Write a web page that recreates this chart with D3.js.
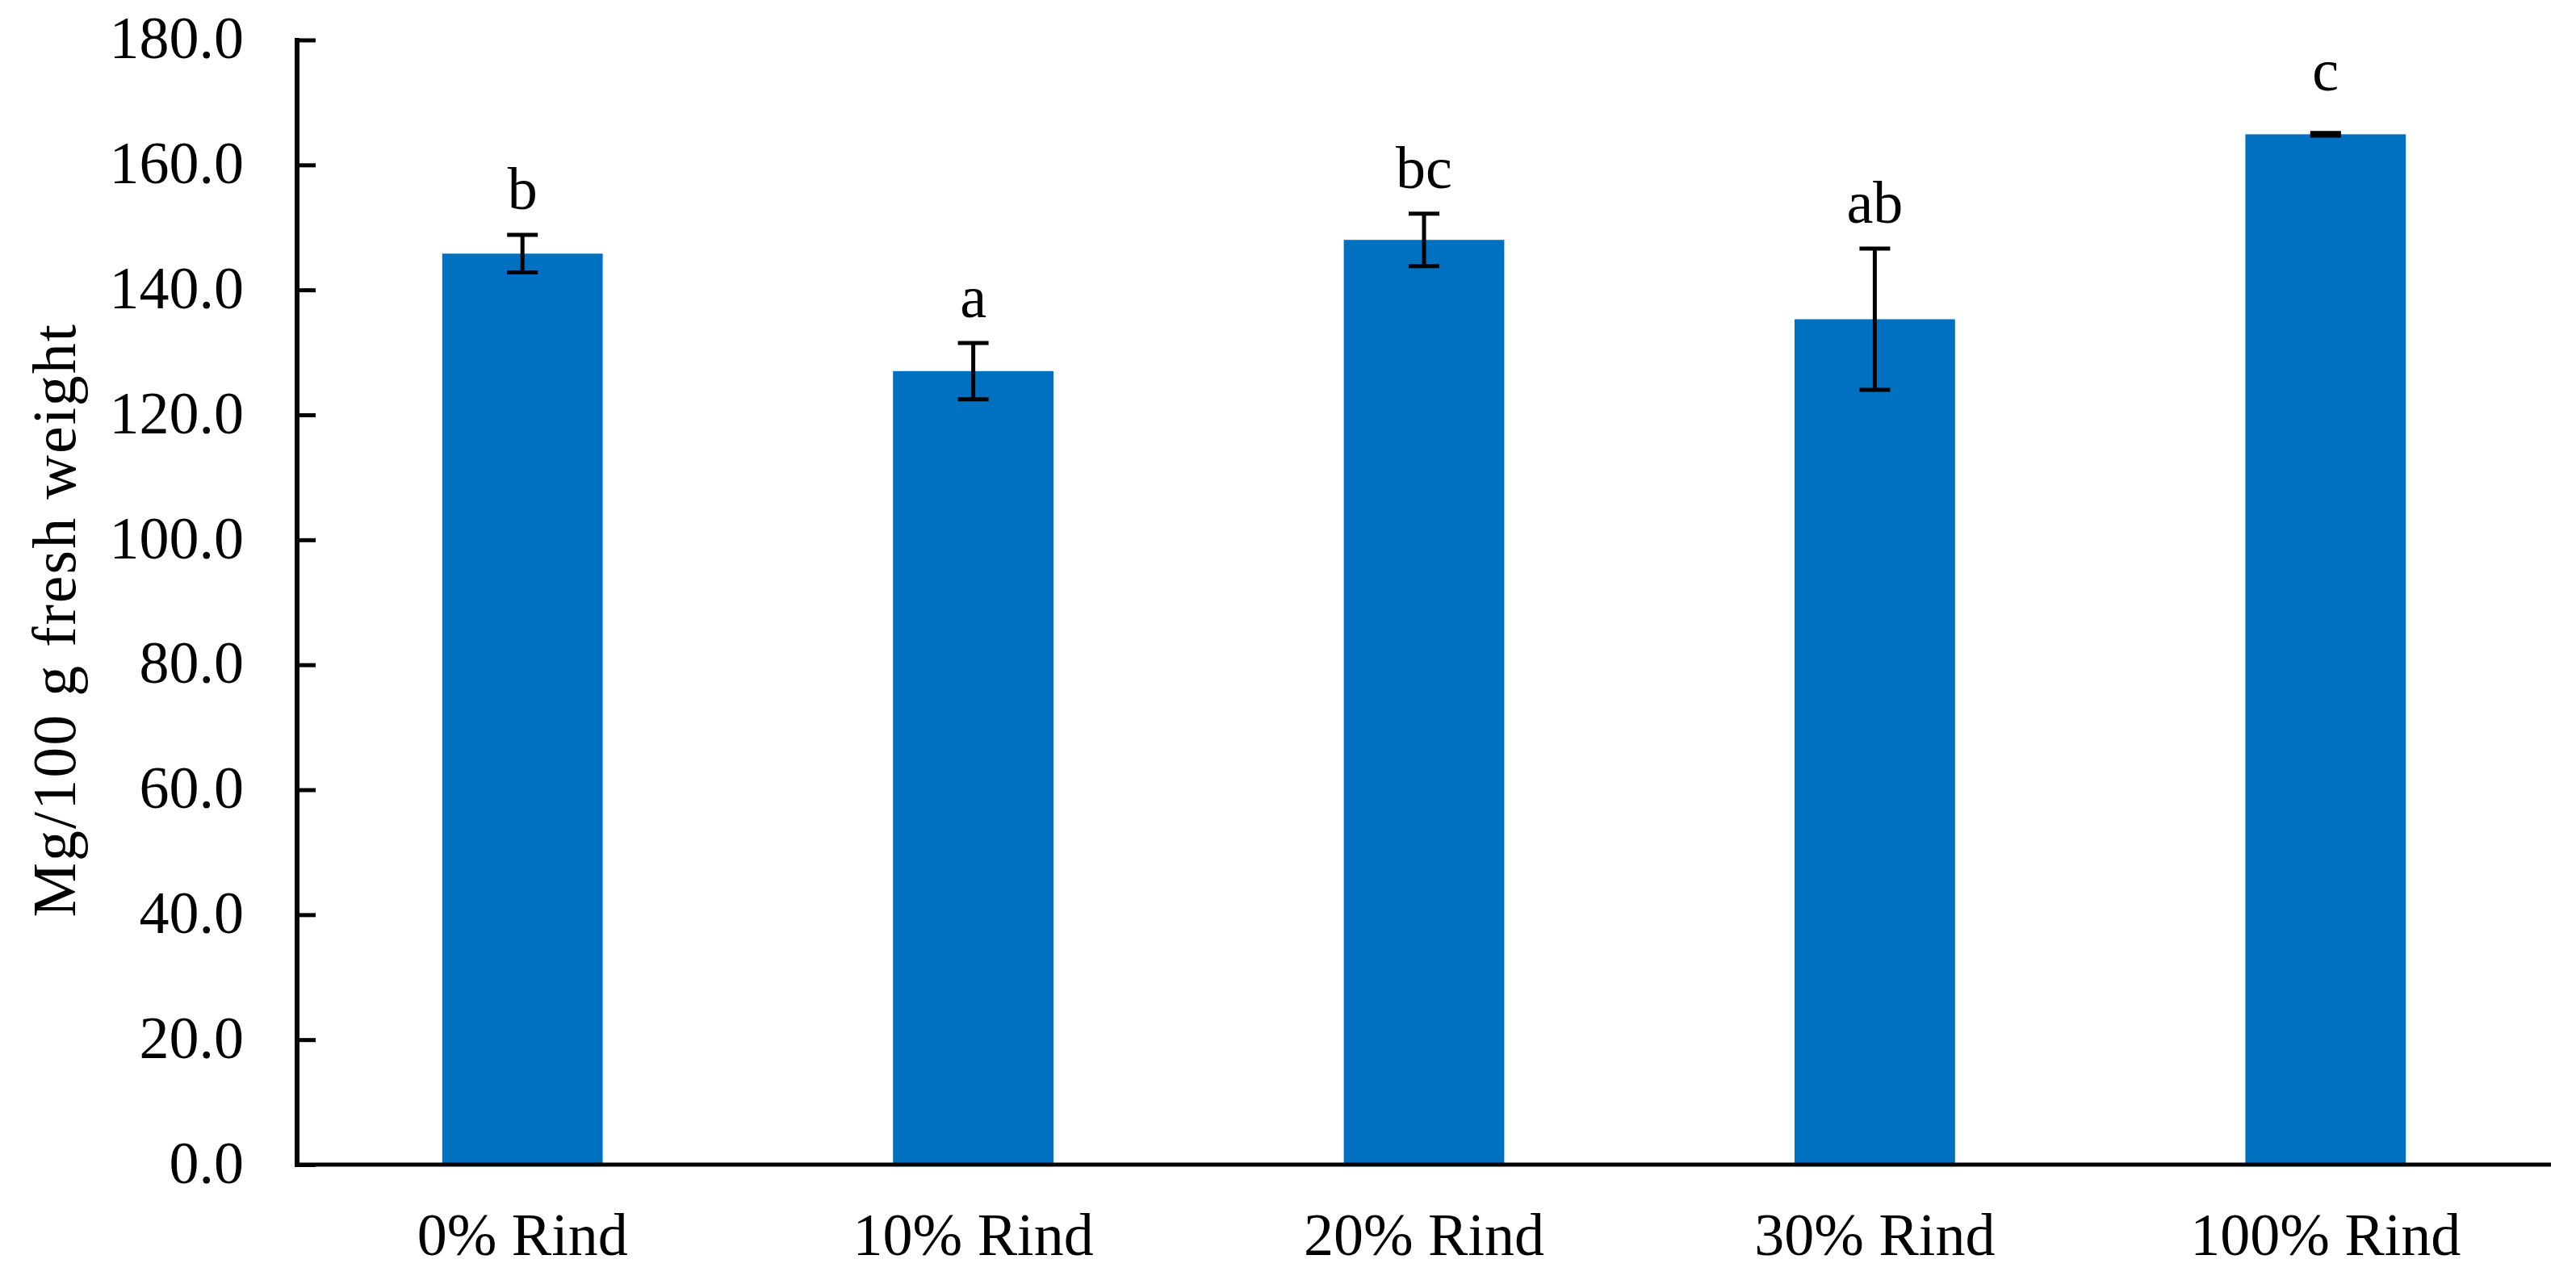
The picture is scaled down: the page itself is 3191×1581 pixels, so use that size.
<!DOCTYPE html>
<html>
<head>
<meta charset="utf-8">
<script src="https://cdn.jsdelivr.net/npm/d3@7"></script>
<style>
  html, body { margin: 0; padding: 0; background: #fff; }
  svg { display: block; }
  text { font-family: "Liberation Serif", "Times New Roman", serif; fill: #000; }
</style>
</head>
<body>
<svg id="chart" width="3191" height="1581"></svg>
<script>
const categories = ["0% Rind", "10% Rind", "20% Rind", "30% Rind", "100% Rind"];
const means = [145.8, 127.0, 148.0, 135.3, 164.9];
const errors = [3.0, 4.5, 4.2, 11.3, 0.2];
const letters = ["b", "a", "bc", "ab", "c"];
const yTicks = [0, 20, 40, 60, 80, 100, 120, 140, 160, 180];
const yTitle = "Mg/100 g fresh weight";

const W = 3191, H = 1581;
const margin = { left: 368, right: 31, top: 49.5, bottom: 138 };
const svg = d3.select("#chart");

const x = d3.scaleBand()
  .domain(categories)
  .range([margin.left, W - margin.right])
  .paddingInner(0.644)
  .paddingOuter(0.322);

const y = d3.scaleLinear()
  .domain([0, 180])
  .range([H - margin.bottom, margin.top]);

const fs = 74;

// bars
svg.append("g").selectAll("rect")
  .data(categories)
  .join("rect")
  .attr("x", d => x(d))
  .attr("width", x.bandwidth())
  .attr("y", (d, i) => y(means[i]))
  .attr("height", (d, i) => y(0) - y(means[i]))
  .attr("fill", "#0070C0");

// error bars
const capW = 38;
const eg = svg.append("g").attr("stroke", "#000").attr("stroke-width", 5);
categories.forEach((c, i) => {
  const cx = x(c) + x.bandwidth() / 2;
  const hi = y(means[i] + errors[i]);
  const lo = y(means[i] - errors[i]);
  eg.append("line").attr("x1", cx).attr("x2", cx).attr("y1", hi).attr("y2", lo);
  eg.append("line").attr("x1", cx - capW / 2).attr("x2", cx + capW / 2).attr("y1", hi).attr("y2", hi);
  eg.append("line").attr("x1", cx - capW / 2).attr("x2", cx + capW / 2).attr("y1", lo).attr("y2", lo);
});

// significance letters
svg.append("g").selectAll("text")
  .data(categories)
  .join("text")
  .attr("x", d => x(d) + x.bandwidth() / 2)
  .attr("y", (d, i) => Math.min(y(means[i] + errors[i]) - 32, y(means[i]) - 54))
  .attr("text-anchor", "middle")
  .attr("font-size", fs)
  .text((d, i) => letters[i]);

// y axis
const yAxis = d3.axisLeft(y)
  .tickValues(yTicks)
  .tickFormat(d3.format(".1f"))
  .tickSizeInner(-23)
  .tickSizeOuter(0)
  .tickPadding(66);
const yg = svg.append("g")
  .attr("transform", `translate(${margin.left},0)`)
  .call(yAxis);
yg.select(".domain").attr("stroke", "#000").attr("stroke-width", 6)
  .attr("d", `M0,${y(180) - 2.5}V${y(0) + 3}`);
yg.selectAll(".tick line").attr("stroke", "#000").attr("stroke-width", 5);
yg.selectAll(".tick text")
  .attr("font-size", fs)
  .attr("font-family", "Liberation Serif, Times New Roman, serif")
  .attr("dy", "0.3em");

// x axis
const xAxis = d3.axisBottom(x).tickSize(0).tickSizeOuter(0).tickPadding(0);
const xg = svg.append("g")
  .attr("transform", `translate(0,${y(0)})`)
  .call(xAxis);
xg.select(".domain").attr("stroke", "#000").attr("stroke-width", 5)
  .attr("d", `M${margin.left - 3},0H${W - margin.right}`);
xg.selectAll(".tick text")
  .attr("font-size", fs)
  .attr("font-family", "Liberation Serif, Times New Roman, serif")
  .attr("y", 112)
  .attr("dy", 0);

// y title
svg.append("text")
  .attr("transform", `translate(93,${(y(0) + y(180)) / 2 + 22}) rotate(-90)`)
  .attr("text-anchor", "middle")
  .attr("font-size", 76)
  .attr("letter-spacing", 2)
  .text(yTitle);
</script>
</body>
</html>
